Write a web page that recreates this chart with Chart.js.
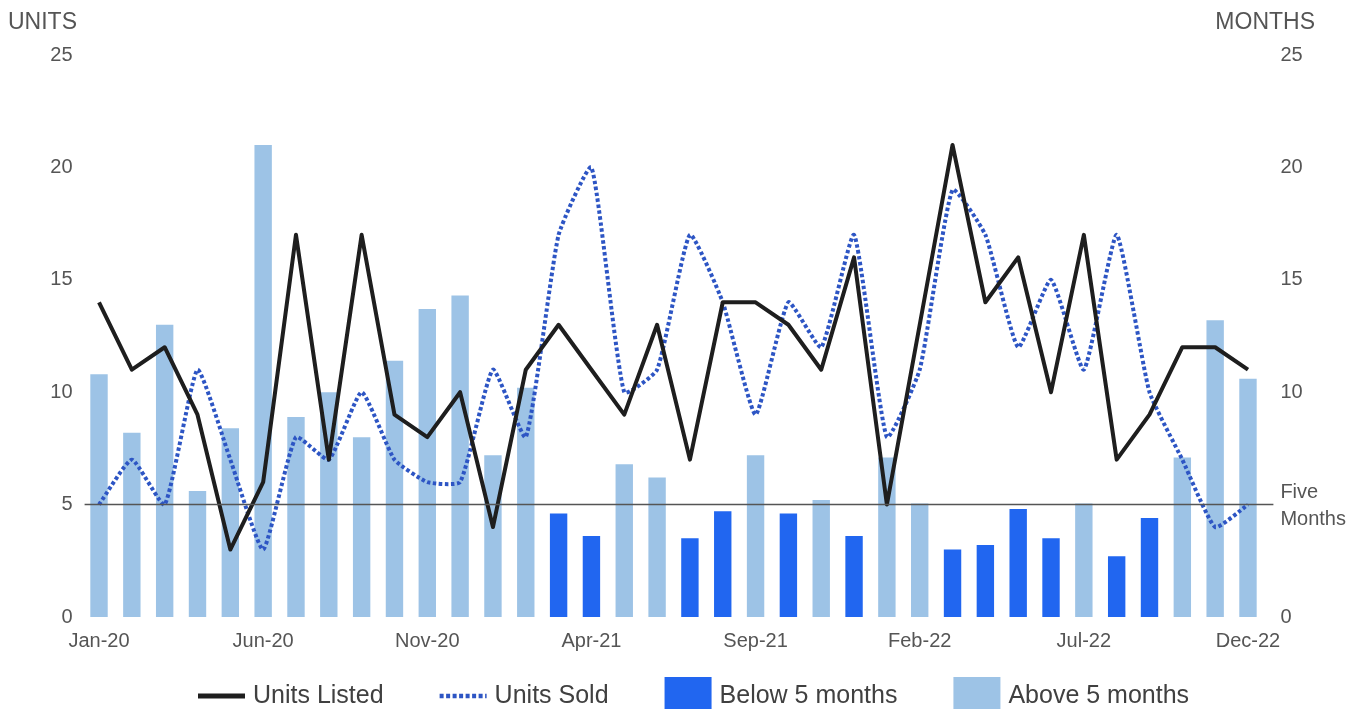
<!DOCTYPE html>
<html><head><meta charset="utf-8">
<script src="https://cdn.jsdelivr.net/npm/chart.js@4.4.1/dist/chart.umd.min.js"></script>
<style>html,body{margin:0;padding:0;background:#fff;overflow:hidden}canvas{display:block}</style>
</head><body>
<canvas id="c" width="1359" height="709"></canvas>
<script>
const months = ['Jan-20','Feb-20','Mar-20','Apr-20','May-20','Jun-20','Jul-20','Aug-20','Sep-20','Oct-20','Nov-20','Dec-20',
  'Jan-21','Feb-21','Mar-21','Apr-21','May-21','Jun-21','Jul-21','Aug-21','Sep-21','Oct-21','Nov-21','Dec-21',
  'Jan-22','Feb-22','Mar-22','Apr-22','May-22','Jun-22','Jul-22','Aug-22','Sep-22','Oct-22','Nov-22','Dec-22'];
const shownTickLabels = ['Jan-20','Jun-20','Nov-20','Apr-21','Sep-21','Feb-22','Jul-22','Dec-22'];
const unitsListed = [14,11,12,9,3,6,17,7,17,9,8,10,4,11,13,11,9,13,7,14,14,13,11,16,5,13,21,14,16,10,17,7,9,12,12,11];
const unitsSold   = [5,7,5,11,7,3,8,7,10,7,6,6,11,8,17,20,10,11,17,14,9,14,12,17,8,11,19,17,12,15,11,17,10,7,4,5];
const monthsSupply = [10.8,8.2,13.0,5.6,8.4,21.0,8.9,10.0,8.0,11.4,13.7,14.3,7.2,10.2,4.6,3.6,6.8,6.2,3.5,4.7,7.2,4.6,5.2,3.6,
  7.1,5.05,3.0,3.2,4.8,3.5,5.05,2.7,4.4,7.1,13.2,10.6];
const threshold = 5;
const axisMax = 25;
const axisStep = 5;

const COL_LISTED = '#1e1e1e';
const COL_SOLD = '#2d55c4';
const COL_BELOW = '#2166f0';
const COL_ABOVE = '#9dc3e6';
const FONT = "'Liberation Sans', Arial, sans-serif";
const TICK_COL = '#555555';

const below = monthsSupply.map(v => v < threshold ? v : null);
const above = monthsSupply.map(v => v >= threshold ? v : null);

const legendItems = [
  {text:'Units Listed', kind:'line', color:COL_LISTED, width:5, dash:[]},
  {text:'Units Sold', kind:'line', color:COL_SOLD, width:4.5, dash:[4,2.5]},
  {text:'Below 5 months', kind:'box', color:COL_BELOW},
  {text:'Above 5 months', kind:'box', color:COL_ABOVE}
];

const overlay = {
  id:'overlay',
  afterDatasetsDraw(chart){
    const {ctx, chartArea:a, scales} = chart;
    const y5 = scales.y1.getPixelForValue(threshold);
    ctx.save();
    ctx.strokeStyle = '#555'; ctx.lineWidth = 1.5;
    ctx.beginPath(); ctx.moveTo(a.left + 2, y5); ctx.lineTo(a.right + 9, y5); ctx.stroke();
    ctx.fillStyle = TICK_COL;
    ctx.font = '20px ' + FONT;
    ctx.textAlign = 'left'; ctx.textBaseline = 'middle';
    ctx.fillText('Five', a.right + 16, y5 - 12);
    ctx.fillText('Months', a.right + 16, y5 + 15);
    ctx.restore();
  },
  afterDraw(chart){
    const {ctx} = chart;
    ctx.save();
    ctx.fillStyle = TICK_COL;
    ctx.font = '23px ' + FONT;
    ctx.textBaseline = 'middle';
    ctx.textAlign = 'left';
    ctx.fillText('UNITS', 8, 23);
    ctx.textAlign = 'right';
    ctx.fillText('MONTHS', 1315, 23);
    // legend
    ctx.font = '25px ' + FONT;
    ctx.textAlign = 'left';
    let x = 198; const yc = 696;
    legendItems.forEach(it => {
      if (it.kind === 'line') {
        ctx.strokeStyle = it.color; ctx.lineWidth = it.width; ctx.setLineDash(it.dash);
        ctx.beginPath(); ctx.moveTo(x, yc); ctx.lineTo(x + 47, yc); ctx.stroke();
        ctx.setLineDash([]);
      } else {
        ctx.fillStyle = it.color;
        ctx.fillRect(x, 677, 47, 40);
      }
      ctx.fillStyle = '#404040';
      ctx.fillText(it.text, x + 55, yc);
      x += 55 + ctx.measureText(it.text).width + 56;
    });
    ctx.restore();
  }
};

new Chart(document.getElementById('c'), {
  data: {
    labels: months,
    datasets: [
      {type:'line', label:'Units Listed', data:unitsListed, yAxisID:'y', borderColor:COL_LISTED, borderWidth:4,
       pointRadius:0, tension:0, order:0, borderJoinStyle:'round'},
      {type:'line', label:'Units Sold', data:unitsSold, yAxisID:'y', borderColor:COL_SOLD, borderWidth:4,
       borderDash:[3.5,2.5], pointRadius:0, tension:0.15, order:1},
      {type:'bar', label:'Below 5 months', data:below, yAxisID:'y1', backgroundColor:COL_BELOW,
       grouped:false, barPercentage:0.53, categoryPercentage:1, order:2},
      {type:'bar', label:'Above 5 months', data:above, yAxisID:'y1', backgroundColor:COL_ABOVE,
       grouped:false, barPercentage:0.53, categoryPercentage:1, order:3}
    ]
  },
  options: {
    responsive:false, animation:false,
    layout:{padding:{top:55, left:0, right:0, bottom:0}},
    plugins:{legend:{display:false}, tooltip:{enabled:false}},
    scales:{
      x:{
        grid:{display:false, drawTicks:false}, border:{display:false},
        ticks:{autoSkip:false, maxRotation:0, minRotation:0, padding:12, color:TICK_COL, font:{family:FONT, size:20},
          callback:function(v, i){ const l = months[i]; return shownTickLabels.includes(l) ? l : ''; }},
        afterFit(s){ s.height = 92; }
      },
      y:{
        position:'left', min:0, max:axisMax,
        grid:{display:false, drawTicks:false}, border:{display:false},
        ticks:{stepSize:axisStep, padding:10, color:TICK_COL, font:{family:FONT, size:20}},
        afterFit(s){ s.width = 82.6; }
      },
      y1:{
        position:'right', min:0, max:axisMax,
        grid:{display:false, drawTicks:false}, border:{display:false},
        ticks:{stepSize:axisStep, padding:16, color:TICK_COL, font:{family:FONT, size:20},
          callback:function(v){ return v === threshold ? '' : v; }},
        afterFit(s){ s.width = 94.6; }
      }
    }
  },
  plugins:[overlay]
});
</script>
</body></html>
